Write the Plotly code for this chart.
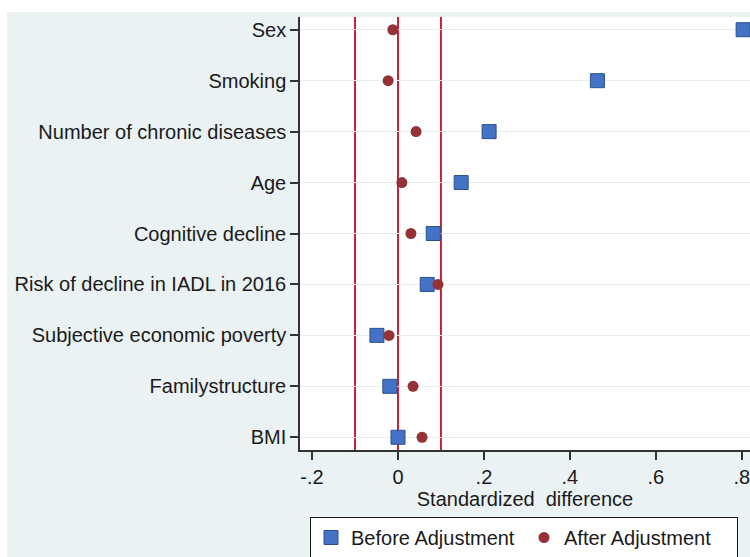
import plotly.graph_objects as go

categories = ["Sex", "Smoking", "Number of chronic diseases", "Age", "Cognitive decline",
              "Risk of decline in IADL in 2016", "Subjective economic poverty",
              "Familystructure", "BMI"]
before_adj = [0.803, 0.464, 0.212, 0.147, 0.082, 0.068, -0.049, -0.019, 0.0]
after_adj = [-0.012, -0.023, 0.042, 0.009, 0.030, 0.093, -0.021, 0.035, 0.056]
ref_lines = [-0.1, 0.0, 0.1]
xtick_vals = [-0.2, 0.0, 0.2, 0.4, 0.6, 0.8]
xtick_text = ["-.2", "0", ".2", ".4", ".6", ".8"]

FONT = "Liberation Sans, Arial, sans-serif"
BG = "#eaf2f3"
FS = 20

fig = go.Figure()
fig.add_trace(go.Scatter(
    x=before_adj, y=categories, mode="markers", name="Before Adjustment",
    marker=dict(symbol="square", size=14, color="#4472c4",
                line=dict(color="#2b4f94", width=1)),
))
fig.add_trace(go.Scatter(
    x=after_adj, y=categories, mode="markers", name="After Adjustment",
    marker=dict(symbol="circle", size=11, color="#943238",
                line=dict(color="#943238", width=0)),
))

for v in ref_lines:
    fig.add_vline(x=v, line=dict(color="#c8203a", width=2), layer="below")

# white strips top and left (outer margin of original figure)
fig.add_shape(type="rect", xref="paper", yref="paper",
              x0=-0.7, x1=(7 - 300) / 450, y0=-0.3, y1=1.1,
              fillcolor="white", line=dict(width=0), layer="above")
fig.add_shape(type="rect", xref="paper", yref="paper",
              x0=-0.7, x1=1.1, y0=(450 - 12) / 433, y1=1.1,
              fillcolor="white", line=dict(width=0), layer="above")

fig.update_layout(
    width=750, height=557,
    margin=dict(l=300, r=0, t=17, b=107, autoexpand=False),
    paper_bgcolor=BG, plot_bgcolor="white",
    font=dict(family=FONT, size=FS, color="#1a1a1a"),
    showlegend=True,
    legend=dict(orientation="h", xref="container", yref="container",
                x=310 / 750, xanchor="left", y=(557 - 517) / 557, yanchor="top",
                bordercolor="#1a1a1a", borderwidth=1, bgcolor="white",
                font=dict(size=FS), itemwidth=30, entrywidth=168,
                tracegroupgap=0),
)
fig.update_xaxes(
    range=[-0.228, 0.819], tickvals=xtick_vals, ticktext=xtick_text,
    showgrid=False, zeroline=False, showline=True, linecolor="#333333", linewidth=1.5,
    ticks="outside", ticklen=8, tickwidth=1.5, tickcolor="#333333",
    ticklabelstandoff=0, automargin=False, ticklabeloverflow="allow",
    title=dict(text="Standardized  difference", standoff=4, font=dict(size=FS)),
)
fig.update_yaxes(
    categoryorder="array", categoryarray=categories,
    range=[8.25, -0.25], showgrid=True, gridcolor="#e6eef0", gridwidth=1,
    zeroline=False, showline=True, linecolor="#333333", linewidth=1.5,
    ticks="outside", ticklen=8, tickwidth=1.5, tickcolor="#333333",
    ticklabelstandoff=0, automargin=False,
)

fig.write_html("out.html", config={"displayModeBar": False},
               post_script="document.body.style.margin='0';")
